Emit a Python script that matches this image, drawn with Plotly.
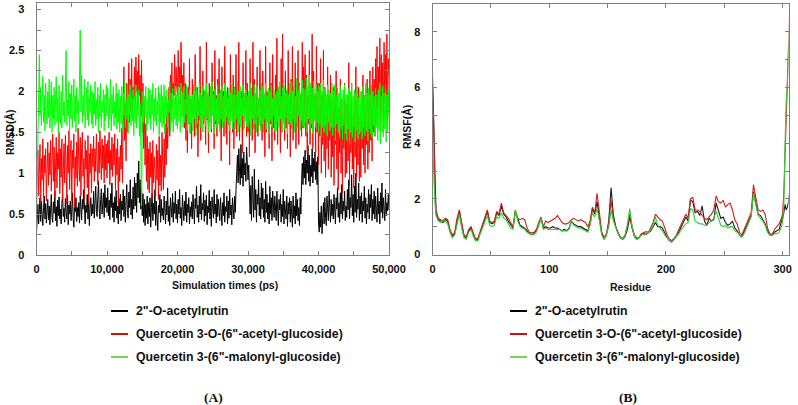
import numpy as np
import plotly.graph_objects as go

W, H = 798, 405

series_names = ['2"-O-acetylrutin', 'Quercetin 3-O-(6"-acetyl-glucoside)', 'Quercetin 3-(6"-malonyl-glucoside)']

# ---------------- RMSD (A) : values over 0-50,000 ps (100 ps steps) ----------------
rmsd_black = [
    0.28,0.45,0.62,0.38,0.55,0.70,0.41,0.66,0.49,0.36,0.58,0.72,0.44,0.63,0.39,0.52,0.68,0.43,0.60,0.37,
    0.54,0.74,0.46,0.40,0.65,0.51,0.78,0.42,0.59,0.35,0.67,0.48,0.71,0.44,0.56,0.38,0.63,0.75,0.47,0.57,
    0.40,0.69,0.52,0.44,0.73,0.37,0.61,0.50,0.66,0.42,0.55,0.76,0.45,0.34,0.62,0.53,0.70,0.41,0.58,0.47,
    0.64,0.39,0.72,0.50,0.43,0.68,0.56,0.80,0.46,0.38,0.61,0.52,0.74,0.44,0.66,0.36,0.57,0.70,0.48,0.62,
    0.50,0.78,0.45,0.66,0.84,0.53,0.47,0.72,0.90,0.55,0.44,0.68,0.81,0.50,0.62,0.76,0.46,0.86,0.58,0.70,
    0.52,0.82,0.48,0.67,0.43,0.75,0.58,0.88,0.46,0.64,0.40,0.71,0.54,0.79,0.45,0.60,0.38,0.69,0.50,0.74,
    0.42,0.66,0.55,0.80,0.47,0.72,0.40,0.63,0.86,0.52,0.45,0.77,0.58,0.92,0.49,0.68,0.44,0.83,0.56,0.95,
    0.60,0.88,0.52,1.00,0.70,1.15,0.64,0.92,0.56,0.82,0.48,0.75,0.40,0.68,0.36,0.62,0.45,0.72,0.38,0.64,
    0.47,0.70,0.34,0.58,0.76,0.42,0.63,0.50,0.80,0.36,0.66,0.45,0.30,0.61,0.52,0.74,0.40,0.68,0.48,0.57,
    0.43,0.72,0.55,0.38,0.66,0.49,0.82,0.41,0.60,0.36,0.70,0.53,0.46,0.75,0.40,0.64,0.51,0.78,0.44,0.62,
    0.39,0.68,0.50,0.80,0.45,0.58,0.36,0.73,0.55,0.42,0.66,0.48,0.77,0.40,0.62,0.52,0.70,0.38,0.59,0.47,
    0.65,0.44,0.74,0.52,0.38,0.69,0.57,0.84,0.46,0.61,0.40,0.72,0.50,0.86,0.43,0.63,0.55,0.76,0.41,0.67,
    0.48,0.73,0.37,0.60,0.52,0.79,0.44,0.66,0.35,0.71,0.55,0.45,0.80,0.50,0.62,0.39,0.74,0.47,0.68,0.56,
    0.42,0.70,0.51,0.36,0.64,0.48,0.76,0.40,0.59,0.53,0.72,0.38,0.66,0.45,0.80,0.49,0.61,0.37,0.70,0.54,
    0.44,0.72,0.52,0.80,0.95,1.22,0.88,1.30,1.02,0.86,1.35,0.94,1.18,0.84,1.26,0.98,1.12,0.90,1.32,1.05,
    0.92,1.10,0.70,0.50,0.85,0.42,0.96,0.58,0.46,1.05,0.55,0.80,0.40,0.74,0.62,0.92,0.48,0.70,0.44,0.88,
    0.56,0.82,0.46,0.68,0.40,0.90,0.52,0.74,0.44,0.64,0.38,0.84,0.50,0.70,0.42,0.78,0.55,0.46,0.72,0.60,
    0.42,0.78,0.50,0.36,0.68,0.55,0.74,0.40,0.62,0.47,0.80,0.38,0.66,0.52,0.44,0.72,0.35,0.64,0.50,0.70,
    0.40,0.66,0.52,0.34,0.72,0.45,0.60,0.38,0.76,0.48,0.68,0.42,0.58,0.36,0.70,0.50,0.90,1.12,0.86,1.20,
    0.94,1.28,0.86,1.16,1.00,1.34,0.90,1.22,0.84,1.10,0.96,1.30,0.88,1.18,1.02,1.26,0.92,1.14,0.86,1.20,
    0.40,0.28,0.52,0.34,0.60,0.26,0.45,0.64,0.38,0.70,0.46,0.36,0.72,0.50,0.42,0.78,0.55,0.40,0.68,0.48,
    0.62,0.44,0.74,0.52,0.38,0.70,0.56,0.82,0.46,0.64,0.40,0.76,0.50,0.86,0.44,0.66,0.54,0.78,0.42,0.60,
    0.46,0.80,0.55,0.92,0.44,0.70,0.58,0.98,0.48,0.74,0.40,0.84,0.52,1.00,0.46,0.68,0.56,0.88,0.42,0.72,
    0.50,0.76,0.40,0.66,0.54,0.84,0.45,0.70,0.38,0.62,0.52,0.80,0.44,0.74,0.58,0.86,0.42,0.68,0.50,0.78,
    0.44,0.72,0.56,0.40,0.82,0.50,0.66,0.38,0.76,0.52,0.88,0.45,0.70,0.58,0.42,0.80,0.48,0.64,0.54,0.74,
    0.55]

rmsd_red = [
    0.80,1.10,1.28,0.72,1.05,1.35,0.64,1.18,0.92,1.42,0.70,1.22,1.00,1.30,0.66,1.15,1.38,0.85,1.25,0.98,
    1.40,0.78,1.20,1.48,0.90,1.32,0.70,1.12,1.44,0.82,1.25,1.05,1.50,0.75,1.30,0.95,1.42,0.68,1.18,1.36,
    0.88,1.46,1.10,0.62,1.34,1.00,1.52,0.80,1.22,1.40,0.66,1.28,1.06,1.48,0.58,1.20,0.94,1.38,0.84,1.55,
    1.12,0.90,1.44,0.72,1.30,1.50,0.96,1.18,0.68,1.40,1.05,1.28,0.82,1.46,0.62,1.24,1.00,1.36,0.76,1.30,
    1.08,1.45,0.90,1.30,1.02,1.48,1.15,0.86,1.38,1.00,1.52,1.12,0.92,1.42,1.06,1.34,0.88,1.46,1.04,1.36,
    0.94,1.40,1.12,1.50,0.86,1.28,1.04,1.44,0.96,1.36,1.10,1.48,0.80,1.30,0.98,1.42,0.62,1.20,0.90,1.34,
    1.05,1.55,0.88,1.70,2.30,1.40,1.85,1.15,2.10,1.50,1.95,2.35,1.62,2.15,1.75,2.40,1.68,2.05,1.90,2.30,
    1.85,2.42,2.00,2.25,1.78,2.45,1.95,2.20,1.70,2.38,1.50,2.10,1.30,1.85,1.10,1.60,0.90,1.45,0.80,1.30,
    0.76,1.38,0.95,1.25,0.70,1.40,0.88,1.20,1.05,0.72,1.35,0.92,1.28,0.68,1.45,0.85,1.22,0.78,1.50,1.00,
    0.80,1.42,0.95,1.60,1.10,1.85,1.30,1.70,2.05,1.45,2.20,1.65,2.35,1.80,2.10,1.95,2.45,1.85,2.30,2.05,
    1.95,2.50,2.05,2.30,1.85,2.60,2.00,2.20,1.70,2.35,1.55,2.10,1.40,1.95,1.25,2.05,1.60,2.40,1.50,1.90,
    1.30,2.15,1.70,1.95,1.45,2.45,1.85,1.55,2.05,1.20,1.90,1.65,2.55,1.40,1.95,1.75,2.25,1.60,2.00,1.50,
    1.35,2.60,1.65,1.95,1.25,2.10,1.75,1.90,1.50,2.35,1.85,2.00,1.30,2.50,1.60,1.95,1.45,2.15,1.80,2.40,
    1.55,1.95,1.15,2.30,1.70,2.00,1.45,2.55,1.80,1.90,1.35,2.05,1.60,1.95,1.10,2.45,1.75,2.00,1.50,2.20,
    1.30,2.05,1.70,2.45,1.45,1.95,1.60,2.60,1.40,1.90,1.75,2.00,1.25,2.35,1.55,1.95,1.80,2.50,1.45,2.10,
    1.50,1.95,1.20,2.40,1.70,2.00,1.40,2.60,1.60,2.15,1.25,1.95,1.65,2.30,1.45,1.90,1.80,2.50,1.55,2.05,
    1.40,2.25,1.65,1.95,1.20,2.55,1.50,2.00,1.75,1.90,1.30,2.35,1.60,2.10,1.15,2.45,1.55,1.95,1.40,2.20,
    1.60,2.65,1.35,2.05,1.70,1.95,1.25,2.40,1.50,2.70,1.65,1.95,1.40,2.25,1.55,2.00,1.30,2.50,1.60,2.05,
    1.20,2.15,1.55,2.55,1.40,1.95,1.65,2.35,1.30,2.00,1.60,2.50,1.35,2.10,1.70,1.95,1.45,2.60,1.55,2.30,
    1.70,2.45,1.45,2.20,1.25,1.95,1.60,2.50,1.35,2.05,1.55,2.70,1.30,2.25,1.65,1.95,1.25,2.55,1.50,2.10,
    1.10,2.10,1.45,2.40,1.00,1.95,1.35,2.50,1.15,2.05,0.95,1.85,1.30,2.30,1.05,1.95,1.40,2.20,0.95,1.90,
    1.20,2.05,0.85,1.85,1.35,2.25,1.05,1.95,0.80,1.80,1.25,2.15,1.00,1.90,0.75,1.75,1.30,2.10,0.95,1.85,
    1.00,1.95,1.15,2.35,0.85,1.80,1.25,2.10,1.05,1.70,0.82,2.00,1.20,2.30,0.95,1.85,1.10,2.05,0.90,1.65,
    0.95,1.85,1.30,2.20,1.10,1.95,1.00,1.80,1.35,2.15,1.05,1.90,1.25,2.25,1.40,2.00,1.15,2.30,1.50,2.15,
    1.45,2.40,1.70,2.55,1.55,2.30,1.80,2.65,1.60,2.45,1.75,2.35,1.50,2.60,1.85,2.45,1.65,2.70,1.55,2.40,
    2.20]

rmsd_green = [
    0.35,0.95,1.40,1.95,2.45,1.70,2.05,1.58,1.88,2.18,1.62,1.95,1.52,2.10,1.75,1.60,2.00,1.68,2.15,1.55,
    1.85,2.12,1.50,1.95,1.66,2.05,1.58,1.80,2.18,1.62,1.92,1.48,2.08,1.72,1.60,2.00,1.55,2.20,1.70,1.88,
    1.62,2.05,2.50,1.58,1.90,1.70,2.12,1.52,1.98,1.66,2.08,1.56,1.85,2.15,1.64,1.95,1.50,2.05,1.72,1.90,
    1.60,2.10,2.75,1.75,2.20,1.62,1.95,1.70,2.15,1.55,1.88,2.05,1.65,2.12,1.58,1.92,1.74,2.08,1.60,2.00,
    1.55,1.98,1.72,2.12,1.58,1.90,1.66,2.05,1.50,1.95,1.68,2.10,1.56,1.88,1.74,2.02,1.52,1.96,1.64,2.08,
    1.70,2.04,1.55,1.92,1.66,2.15,1.52,1.96,1.72,2.06,1.58,1.88,1.68,2.10,1.54,1.98,1.62,2.02,1.50,1.94,
    1.60,2.06,1.52,1.98,1.70,2.12,1.56,1.90,1.66,2.04,1.48,1.96,1.72,2.08,1.58,1.92,1.64,2.02,1.46,1.94,
    1.62,2.08,1.55,1.96,1.70,2.02,1.45,1.86,1.30,0.60,1.55,2.00,1.62,1.94,1.68,2.06,1.52,1.90,1.60,2.04,
    1.66,2.02,1.54,1.96,1.70,2.10,1.50,1.92,1.64,2.04,1.58,1.88,1.72,2.06,1.46,1.98,1.62,2.08,1.56,1.94,
    1.60,2.08,1.48,1.94,1.68,2.02,1.56,1.90,1.74,2.12,1.52,1.98,1.62,2.04,1.50,1.92,1.66,2.06,1.58,1.96,
    1.54,2.04,1.64,1.92,1.50,2.10,1.68,1.98,1.56,2.06,1.62,1.90,1.72,2.08,1.52,1.96,1.60,2.02,1.48,1.94,
    1.62,1.96,1.52,2.08,1.66,2.00,1.46,2.04,1.60,1.92,1.70,2.10,1.56,1.98,1.64,2.06,1.50,1.94,1.68,2.02,
    1.58,2.10,1.66,1.98,1.50,1.94,1.62,2.06,1.54,2.12,1.70,1.96,1.48,2.02,1.64,1.92,1.56,2.08,1.60,1.98,
    1.50,2.02,1.66,2.06,1.56,1.94,1.62,2.10,1.48,2.00,1.68,1.92,1.58,2.04,1.52,1.98,1.64,2.08,1.54,1.96,
    1.62,2.04,1.54,1.96,1.66,2.12,1.50,2.00,1.60,2.06,1.56,1.92,1.70,2.08,1.52,1.98,1.64,2.02,1.58,1.94,
    1.56,2.00,1.62,2.10,1.46,2.04,1.66,1.94,1.54,2.08,1.60,1.98,1.50,2.06,1.68,1.92,1.58,2.02,1.52,2.10,
    1.60,2.06,1.50,1.98,1.66,2.10,1.54,1.94,1.62,2.04,1.48,2.00,1.64,2.08,1.56,1.92,1.70,2.02,1.52,1.96,
    1.52,2.00,1.62,2.06,1.56,2.12,1.66,1.94,1.50,2.04,1.60,2.08,1.54,1.98,1.68,2.02,1.48,1.96,1.62,2.10,
    1.60,2.12,1.54,2.00,1.66,2.06,1.50,1.94,1.62,2.16,1.56,2.02,1.70,2.08,1.52,1.98,1.64,2.14,1.58,2.04,
    1.56,2.02,1.62,2.16,1.50,2.06,1.66,2.20,1.54,2.10,1.60,2.04,1.48,2.12,1.64,1.98,1.56,2.08,1.62,2.00,
    1.50,2.06,1.60,2.10,1.44,2.00,1.56,2.14,1.50,2.04,1.58,1.96,1.46,2.08,1.62,2.02,1.52,1.98,1.56,2.10,
    1.46,2.00,1.56,2.08,1.40,1.96,1.60,2.04,1.50,1.98,1.44,2.06,1.54,1.92,1.42,2.02,1.58,2.08,1.48,1.96,
    1.40,1.96,1.54,2.04,1.36,2.00,1.50,2.10,1.44,1.94,1.56,2.02,1.38,1.98,1.52,2.06,1.42,1.92,1.48,2.00,
    1.50,2.00,1.42,2.06,1.56,1.94,1.46,2.10,1.52,1.98,1.40,2.04,1.54,1.96,1.48,2.08,1.44,2.00,1.58,1.94,
    1.46,2.04,1.56,1.96,1.40,2.02,1.52,2.10,1.36,1.94,1.50,2.06,1.44,1.98,1.54,2.08,1.38,1.96,1.50,2.02,
    1.70]

rmsd_x_tickvals = [0, 5000, 10000, 15000, 20000, 25000, 30000, 35000, 40000, 45000, 50000]
rmsd_x_ticktext = ["0", "", "10,000", "", "20,000", "", "30,000", "", "40,000", "", "50,000"]
rmsd_y_tickvals = [0, 0.25, 0.5, 0.75, 1, 1.25, 1.5, 1.75, 2, 2.25, 2.5, 2.75, 3]
rmsd_y_ticktext = ["0", "", "0.5", "", "1", "", "1.5", "", "2", "", "2.5", "", "3"]

# ---------------- RMSF (B) : values per residue ----------------
residues = [0,1,2,3,5,7,9,11,13,15,17,19,21,23,25,27,29,31,33,35,37,39,41,43,45,47,49,51,53,55,57,59,
            61,63,65,67,69,71,73,75,77,79,81,83,85,87,89,91,93,95,97,99,101,103,105,107,109,111,113,115,
            117,119,121,123,125,127,129,131,133,135,137,139,141,143,145,147,149,151,153,155,157,159,161,
            163,165,167,169,171,173,175,177,179,181,183,185,187,189,191,193,195,197,199,201,203,205,207,
            209,211,213,215,217,219,221,223,225,227,229,231,233,235,237,239,241,243,245,247,249,251,253,
            255,257,259,261,263,265,267,269,271,273,275,277,279,281,283,285,287,289,291,293,295,297,299,
            300,301,302,303,304,305,306]

rmsf_black = [6.4,4.5,2.2,1.5,1.25,1.2,1.15,1.25,1.2,0.85,0.65,0.75,1.2,1.55,1.05,0.65,0.6,0.85,0.95,0.7,
              0.5,0.55,0.8,1.0,1.3,1.55,1.15,1.1,1.15,1.5,1.4,1.75,
              1.45,1.35,1.2,1.05,0.95,1.55,1.25,1.05,1.0,0.95,0.85,0.75,0.72,0.75,0.85,1.1,1.3,0.95,1.0,
              0.95,0.95,1.0,0.95,0.95,0.9,0.85,0.9,0.85,
              0.95,1.2,1.1,1.05,1.0,1.0,0.95,0.9,0.85,1.1,1.65,1.45,1.9,1.3,0.75,0.55,0.7,1.2,2.4,1.4,
              1.0,0.75,0.6,
              0.55,0.65,0.9,1.35,0.95,0.65,0.55,0.6,0.72,0.75,0.72,0.8,0.85,1.0,1.15,1.0,1.0,0.95,0.75,
              0.6,0.5,0.45,0.55,
              0.65,0.8,1.0,1.2,1.35,1.2,1.95,1.9,1.5,1.55,1.4,1.75,1.2,1.05,1.3,1.2,1.25,1.85,1.55,1.3,
              1.35,1.15,1.05,
              1.1,1.2,0.95,0.85,0.7,0.65,0.8,1.0,1.2,1.4,2.25,1.9,1.45,1.4,1.25,1.1,0.85,0.7,0.7,0.8,
              0.85,0.9,1.2,
              1.3,1.5,1.8,1.6,1.7,1.9,2.3]

rmsf_red = [6.0,4.8,2.4,1.6,1.3,1.25,1.2,1.3,1.25,0.9,0.7,0.8,1.3,1.6,1.1,0.7,0.65,0.9,1.0,0.75,
            0.55,0.6,0.85,1.05,1.35,1.6,1.2,1.15,1.2,1.55,1.45,1.85,
            1.5,1.4,1.3,1.15,1.0,1.6,1.3,1.25,1.3,1.25,0.95,0.8,0.78,0.8,0.9,1.15,1.35,1.0,1.2,
            1.15,1.2,1.25,1.3,1.4,1.25,1.15,1.1,1.1,
            1.15,1.25,1.3,1.25,1.2,1.25,1.2,1.15,1.0,1.2,1.7,1.5,2.2,1.45,0.8,0.6,0.75,1.1,1.95,1.3,
            1.0,0.8,0.62,
            0.58,0.7,1.0,1.45,1.0,0.7,0.6,0.62,0.75,0.8,0.82,0.8,0.95,1.15,1.45,1.35,1.25,1.2,0.9,
            0.7,0.55,0.5,0.58,
            0.7,0.9,1.1,1.3,1.45,1.3,2.0,2.05,1.6,1.6,1.55,1.4,1.3,1.25,1.35,1.45,1.6,2.1,1.9,1.85,
            1.95,1.7,1.8,
            1.85,1.6,1.25,1.1,0.8,0.7,0.9,1.1,1.3,1.5,2.5,2.0,1.6,1.55,1.6,1.45,0.95,0.75,0.72,0.9,
            1.0,1.1,1.3,
            1.5,2.2,3.6,5.0,6.2,7.8,8.8]

rmsf_green = [4.2,3.0,1.9,1.4,1.2,1.15,1.25,1.2,1.1,0.8,0.6,0.7,1.1,1.45,0.95,0.6,0.55,0.8,0.9,0.65,
              0.5,0.5,0.75,0.95,1.2,1.4,1.05,1.0,1.05,1.35,1.3,1.5,
              1.3,1.25,1.1,0.95,0.9,1.6,1.2,1.0,0.95,0.9,0.8,0.75,0.7,0.72,0.8,1.05,1.3,0.9,0.95,
              0.9,0.9,0.9,0.9,0.9,0.9,0.85,0.85,0.85,
              0.9,1.2,1.05,1.0,0.95,0.95,0.9,0.85,0.8,1.05,1.5,1.35,1.65,1.2,0.7,0.55,0.7,1.0,1.6,1.2,
              0.95,0.75,0.6,
              0.55,0.7,1.1,1.65,1.0,0.65,0.55,0.6,0.7,0.72,0.75,0.78,0.9,1.05,1.35,1.05,0.95,0.85,0.7,
              0.6,0.5,0.45,0.55,
              0.65,0.75,0.9,1.0,1.1,1.15,1.65,1.6,1.2,1.15,1.1,1.1,1.05,1.05,1.15,1.2,1.3,1.55,1.3,1.05,
              1.0,1.05,0.95,
              1.0,1.0,0.85,0.8,0.7,0.62,0.75,0.95,1.15,1.35,2.2,1.85,1.4,1.3,1.2,1.05,0.8,0.7,0.68,0.75,
              0.75,0.8,1.0,
              1.2,1.8,3.9,5.5,6.0,7.2,8.3]

rmsf_x_tickvals = [0, 50, 100, 150, 200, 250, 300]
rmsf_x_ticktext = ["0", "", "100", "", "200", "", "300"]
rmsf_y_tickvals = [0, 1, 2, 3, 4, 5, 6, 7, 8, 9]
rmsf_y_ticktext = ["0", "", "2", "", "4", "", "6", "", "8", ""]

# ---------------- styling ----------------
rmsd_colors = ["#000000", "#ff0000", "#00ff00"]
rmsf_colors = ["#1a1a1a", "#cc2020", "#33cc33"]
legend_colors = ["#000000", "#cc1111", "#77d94a"]
SANS = "Liberation Sans, Arial, sans-serif"
SERIF = "Liberation Serif, Times New Roman, serif"

def px(x):
    return x / W

def py(y):
    return 1 - y / H

fig = go.Figure()
for vals, col, name in zip([rmsd_black, rmsd_red, rmsd_green], rmsd_colors, series_names):
    t = np.linspace(0, 50000, len(vals))
    fig.add_trace(go.Scatter(x=t, y=vals, mode="lines", name=name,
                             line=dict(color=col, width=1), xaxis="x", yaxis="y",
                             showlegend=False))
for vals, col, name in zip([rmsf_black, rmsf_red, rmsf_green], rmsf_colors, series_names):
    fig.add_trace(go.Scatter(x=residues, y=vals, mode="lines", name=name,
                             line=dict(color=col, width=1.1), xaxis="x2", yaxis="y2",
                             showlegend=False))

frame = dict(showline=True, linecolor="#7f7f7f", linewidth=1, mirror="allticks",
             ticks="inside", ticklen=4, tickcolor="#7f7f7f", showgrid=False, zeroline=False,
             automargin=False,
             tickfont=dict(family=SANS, size=11, color="#111", weight="bold"))

fig.update_layout(
    width=W, height=H, margin=dict(l=0, r=0, t=0, b=0, autoexpand=False),
    paper_bgcolor="white", plot_bgcolor="white",
    xaxis=dict(domain=[px(36.5), px(389)], range=[0, 50000], tickmode="array",
               tickvals=rmsd_x_tickvals, ticktext=rmsd_x_ticktext, anchor="y",
               ticklabelstandoff=4, **frame),
    yaxis=dict(domain=[py(255), py(3)], range=[0, 3.08], tickmode="array",
               tickvals=rmsd_y_tickvals, ticktext=rmsd_y_ticktext, anchor="x",
               ticklabelstandoff=9, **frame),
    xaxis2=dict(domain=[px(432.5), px(788.5)], range=[0, 305], tickmode="array",
                tickvals=rmsf_x_tickvals, ticktext=rmsf_x_ticktext, anchor="y2",
                ticklabelstandoff=4, **frame),
    yaxis2=dict(domain=[py(254.5), py(4)], range=[0, 9.0], tickmode="array",
                tickvals=rmsf_y_tickvals, ticktext=rmsf_y_ticktext, anchor="x2",
                ticklabelstandoff=9, **frame),
    showlegend=False,
)

ann = []
title_font = dict(family=SANS, size=10.5, color="#111", weight="bold")
ann.append(dict(text="Simulation times (ps)", x=px(225), y=py(285), xref="paper", yref="paper",
                showarrow=False, font=title_font, xanchor="center", yanchor="middle"))
ann.append(dict(text="Residue", x=px(630), y=py(287), xref="paper", yref="paper",
                showarrow=False, font=title_font, xanchor="center", yanchor="middle"))
ann.append(dict(text="RMSD(Å)", x=px(10), y=py(132), xref="paper", yref="paper", textangle=-90,
                showarrow=False, font=title_font, xanchor="center", yanchor="middle"))
ann.append(dict(text="RMSF(Å)", x=px(407), y=py(127), xref="paper", yref="paper", textangle=-90,
                showarrow=False, font=title_font, xanchor="center", yanchor="middle"))

shapes = []
rows_y = [311, 334, 357]
for lx in (111, 510):
    for name, col, ry in zip(series_names, legend_colors, rows_y):
        shapes.append(dict(type="line", xref="paper", yref="paper",
                           x0=px(lx), x1=px(lx + 17), y0=py(ry), y1=py(ry),
                           line=dict(color=col, width=2)))
        ann.append(dict(text=name, x=px(lx + 23), y=py(ry), xref="paper", yref="paper",
                        showarrow=False, xanchor="left", yanchor="middle",
                        font=dict(family=SANS, size=12.3, color="#111", weight="bold")))

ann.append(dict(text="(A)", x=px(213), y=py(397), xref="paper", yref="paper", showarrow=False,
                font=dict(family=SERIF, size=13.5, color="#111", weight="bold"),
                xanchor="center", yanchor="middle"))
ann.append(dict(text="(B)", x=px(628), y=py(397), xref="paper", yref="paper", showarrow=False,
                font=dict(family=SERIF, size=13.5, color="#111", weight="bold"),
                xanchor="center", yanchor="middle"))

fig.update_layout(annotations=ann, shapes=shapes)
fig.write_html("out.html")
